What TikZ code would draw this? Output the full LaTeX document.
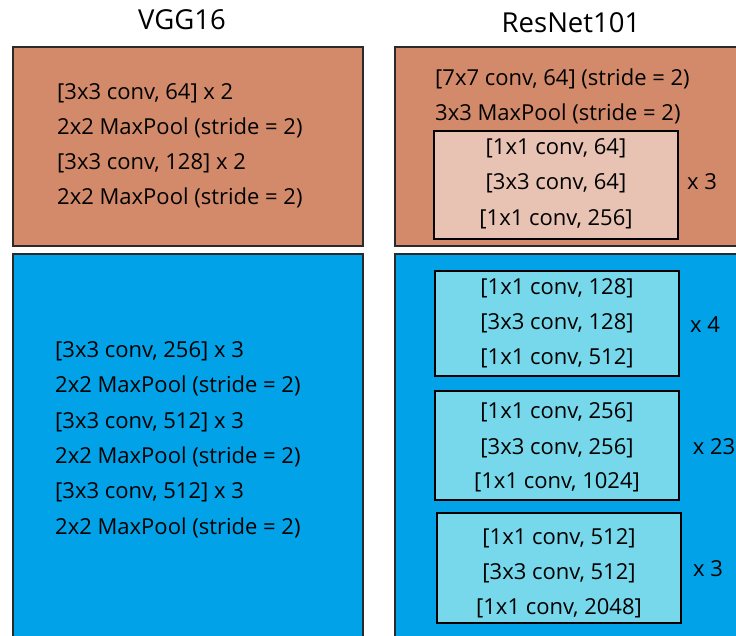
\documentclass[tikz,border=0pt]{standalone}
\usepackage{fontspec}
\setmainfont{Open Sans}
\definecolor{salmon}{HTML}{D38A6B}
\definecolor{pinkish}{HTML}{E8C2B2}
\definecolor{bluebg}{HTML}{02A2E8}
\definecolor{cyanbox}{HTML}{76D8EA}
\definecolor{edge}{HTML}{2A2A2A}
\tikzset{
  outerbox/.style={draw=edge, line width=1.5pt},
  innerbox/.style={draw=black, line width=2pt},
  txt/.style={inner sep=0pt, font=\fontsize{22}{26}\selectfont},
  ltxt/.style={txt, anchor=base west},
  ctxt/.style={txt, anchor=base},
  ttl/.style={inner sep=0pt, anchor=base, font=\fontsize{27.5}{32}\selectfont}
}
\begin{document}
\begin{tikzpicture}[x=1pt,y=-1pt]
\useasboundingbox (0,0) rectangle (736,635);
\clip (0,0) rectangle (736,635);
\fill[white] (0,0) rectangle (736,635);
% titles
\node[ttl] (tv) at (182,29) {VGG16};
\node[ttl] (tr) at (571,32) {ResNet101};
% outer boxes
\draw[outerbox, fill=salmon] (13,47) rectangle (363,246);
\draw[outerbox, fill=bluebg] (13,254) rectangle (363,645);
\draw[outerbox, fill=salmon] (395,47) rectangle (745,246);
\draw[outerbox, fill=bluebg] (395,254) rectangle (745,645);
% inner boxes
\draw[innerbox, fill=pinkish] (434,131) rectangle (678,239);
\draw[innerbox, fill=cyanbox] (435,271) rectangle (679,376);
\draw[innerbox, fill=cyanbox] (435,391) rectangle (679,500);
\draw[innerbox, fill=cyanbox] (437,513) rectangle (681,623);
% VGG top
\node[ltxt] (v1) at (57,99) {[3x3 conv, 64] x 2};
\node[ltxt] (v2) at (57,134) {2x2 MaxPool (stride = 2)};
\node[ltxt] (v3) at (57,169) {[3x3 conv, 128] x 2};
\node[ltxt] (v4) at (57,204) {2x2 MaxPool (stride = 2)};
% VGG bottom
\node[ltxt] (v5) at (55,357) {[3x3 conv, 256] x 3};
\node[ltxt] (v6) at (55,392.5) {2x2 MaxPool (stride = 2)};
\node[ltxt] (v7) at (55,428) {[3x3 conv, 512] x 3};
\node[ltxt] (v8) at (55,463) {2x2 MaxPool (stride = 2)};
\node[ltxt] (v9) at (55,498.5) {[3x3 conv, 512] x 3};
\node[ltxt] (v10) at (55,534) {2x2 MaxPool (stride = 2)};
% ResNet top
\node[ltxt] (r1) at (435,85) {[7x7 conv, 64] (stride = 2)};
\node[ltxt] (r2) at (435,120) {3x3 MaxPool (stride = 2)};
\node[ctxt] (a1) at (556,154) {[1x1 conv, 64]};
\node[ctxt] (a2) at (556,189) {[3x3 conv, 64]};
\node[ctxt] (a3) at (556,225) {[1x1 conv, 256]};
\node[ctxt] (ax) at (702,189) {x 3};
% ResNet blue blocks
\node[ctxt] (b1) at (557,294) {[1x1 conv, 128]};
\node[ctxt] (b2) at (557,329) {[3x3 conv, 128]};
\node[ctxt] (b3) at (557,364) {[1x1 conv, 512]};
\node[ctxt] (bx) at (705,332) {x 4};
\node[ctxt] (c1) at (557,418) {[1x1 conv, 256]};
\node[ctxt] (c2) at (557,454) {[3x3 conv, 256]};
\node[ctxt] (c3) at (557,488) {[1x1 conv, 1024]};
\node[ctxt] (cx) at (714,454) {x 23};
\node[ctxt] (d1) at (559,544) {[1x1 conv, 512]};
\node[ctxt] (d2) at (559,579) {[3x3 conv, 512]};
\node[ctxt] (d3) at (559,614) {[1x1 conv, 2048]};
\node[ctxt] (dx) at (708,576) {x 3};
\end{tikzpicture}
\end{document}
